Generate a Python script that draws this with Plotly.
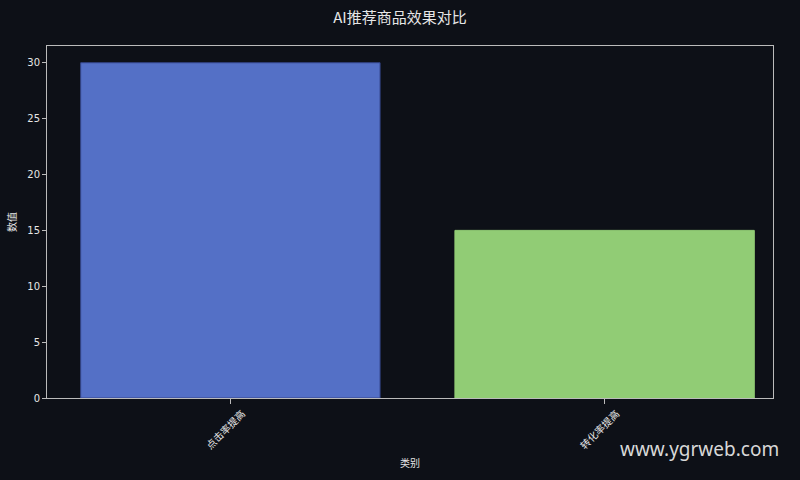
import plotly.graph_objects as go

# 数据
categories = ["点击率提高", "转化率提高"]
values = [30, 15]
colors = ["#5470c6", "#91cc75"]
edge_colors = ["#34458a", "#91cc75"]

bg = "#0d1017"
fg = "#e6e6e6"

fig = go.Figure()
fig.add_trace(go.Bar(
    x=categories,
    y=values,
    marker=dict(color=colors, line=dict(color=edge_colors, width=1)),
    width=0.8,
))

fig.update_layout(
    width=800,
    height=480,
    paper_bgcolor=bg,
    plot_bgcolor=bg,
    font=dict(family="Noto Sans CJK SC", color=fg, size=11),
    title=dict(text="AI推荐商品效果对比", x=0.5, xanchor="center", y=0.962,
               yanchor="middle", font=dict(size=15, color=fg)),
    margin=dict(l=47, r=27, t=46, b=82),
    showlegend=False,
    bargap=0.2,
    xaxis=dict(
        title=dict(text="类别", font=dict(size=10), standoff=8),
        range=[-0.49, 1.45],
        tickangle=-45,
        ticklabelshift=12,
        ticks="outside", ticklen=5, tickcolor="#bbbbbb",
        tickfont=dict(size=10),
        showline=True, linecolor="#bbbbbb", linewidth=1, mirror=True,
        showgrid=False, zeroline=False,
    ),
    yaxis=dict(
        title=dict(text="数值", font=dict(size=10), standoff=8),
        range=[0, 31.5],
        dtick=5,
        ticks="outside", ticklen=4, tickcolor="#bbbbbb",
        tickfont=dict(size=10, family="DejaVu Sans"),
        showline=True, linecolor="#bbbbbb", linewidth=1, mirror=True,
        showgrid=False, zeroline=False,
    ),
)

fig.add_annotation(
    text="www.ygrweb.com", xref="paper", yref="paper",
    x=1.011, y=-0.145, xanchor="right", yanchor="middle",
    showarrow=False, font=dict(size=19, color="#d8d8d8", family="Noto Sans"),
)

# 去掉页面默认边距
fig.write_html("out.html", config={"displayModeBar": False},
               post_script="document.body.style.margin='0';document.body.style.background='%s';" % bg)
